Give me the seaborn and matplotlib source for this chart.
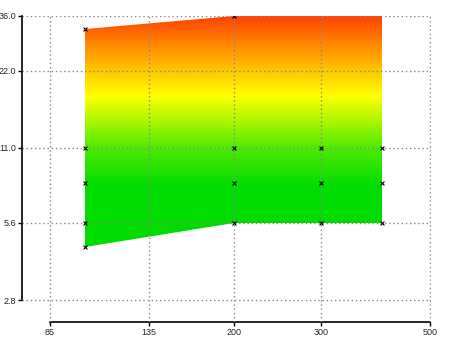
import numpy as np
import pandas as pd
import matplotlib
matplotlib.use("Agg")
import matplotlib.pyplot as plt
import seaborn as sns
from matplotlib.colors import LinearSegmentedColormap
from matplotlib.ticker import FixedLocator, FixedFormatter, NullLocator

# ---- data ----
x_vals = [100, 200, 300, 400]
upper = [32.0, 36.0, 38.0, 40.0]
lower = [4.5, 5.6, 5.6, 5.6]
level_11 = [11.0, 11.0, 11.0, 11.0]
level_8 = [8.0, 8.0, 8.0, 8.0]
level_56 = [5.6, 5.6, 5.6, 5.6]
x_ticks = [85, 135, 200, 300, 500]
x_tick_labels = ["85", "135", "200", "300", "500"]
y_ticks = [2.8, 5.6, 11.0, 22.0, 36.0]
y_tick_labels = ["2.8", "5.6", "11.0", "22.0", "36.0"]

sns.set_style("white")
plt.rcParams['font.family'] = ['Liberation Sans', 'DejaVu Sans']

fig = plt.figure(figsize=(4.5, 3.37), dpi=100)
ax = fig.add_axes([22/450, 15/337, 409/450, 306.5/337])
ax.set_xscale("log")
ax.set_yscale("log")
ax.set_xlim(74.6, 501.5)
ax.set_ylim(2.3, 36.1)

# gradient fill clipped to band
poly = ax.fill_between(x_vals, lower, upper, color="none", lw=0)
path = poly.get_paths()[0]
ys = np.geomspace(3.0, 45.0, 300)
xs = np.array([x_vals[0], x_vals[-1]])
C = np.log(0.5 * (ys[:-1] + ys[1:]))[:, None]
stops = [(36.0, "#FF4000"), (22.0, "#FFC800"), (17.5, "#FFFF00"), (11.0, "#50EB00"), (7.8, "#00DC00")]
lo, hi = np.log(7.8), np.log(36.0)
cmap = LinearSegmentedColormap.from_list(
    "band", [((np.log(v) - lo) / (hi - lo), c) for v, c in sorted(stops)])
mesh = ax.pcolormesh(xs, ys, C, cmap=cmap, vmin=lo, vmax=hi, shading="flat")
mesh.set_clip_path(path, ax.transData)

# markers
pts = pd.DataFrame({
    "x": x_vals * 5,
    "y": upper + lower + level_11 + level_8 + level_56,
}).drop_duplicates()
sns.scatterplot(data=pts, x="x", y="y", ax=ax, marker="x", color="black",
                s=8, linewidth=0.8, zorder=5)

ax.xaxis.set_major_locator(FixedLocator(x_ticks))
ax.xaxis.set_major_formatter(FixedFormatter(x_tick_labels))
ax.xaxis.set_minor_locator(NullLocator())
ax.yaxis.set_major_locator(FixedLocator(y_ticks))
ax.yaxis.set_major_formatter(FixedFormatter(y_tick_labels))
ax.yaxis.set_minor_locator(NullLocator())
ax.set_xlabel("")
ax.set_ylabel("")

ax.grid(True, color="#888888", linestyle=(0, (1, 2)), linewidth=1.0)
ax.set_axisbelow(False)
ax.tick_params(axis="both", labelsize=6.5, length=3, width=1, color="black",
               direction="out", pad=1.0, left=True, bottom=True)
for s in ["left", "bottom"]:
    ax.spines[s].set_color("black")
    ax.spines[s].set_linewidth(1.2)
sns.despine(ax=ax, trim=True)

fig.savefig("out.png", dpi=100)
